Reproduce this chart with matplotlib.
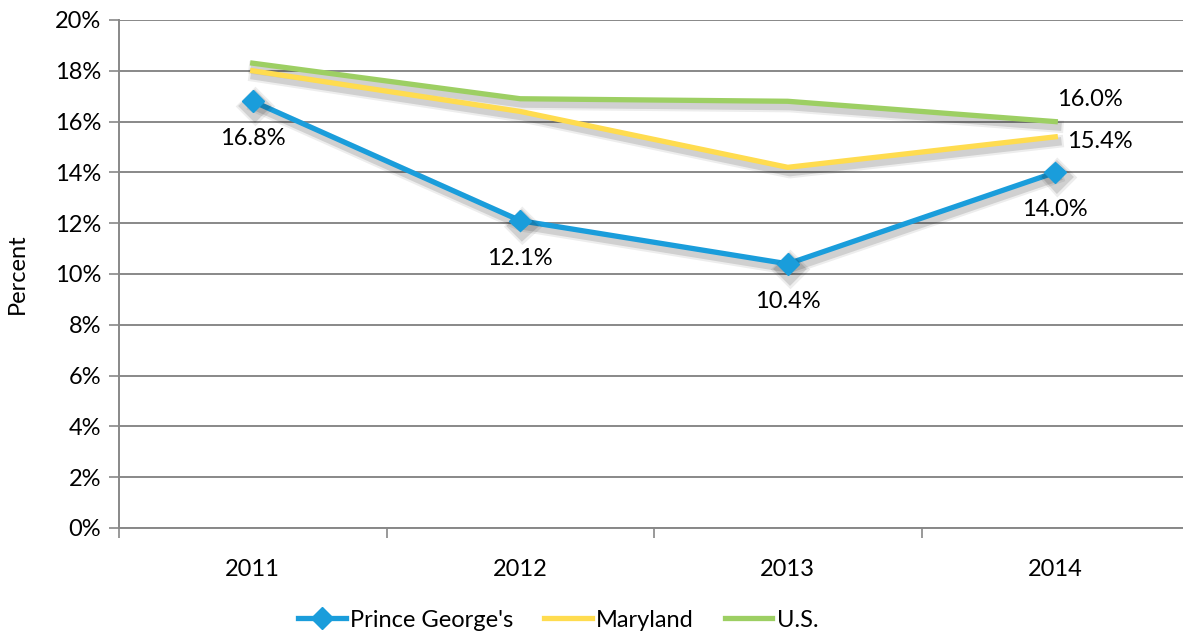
import matplotlib.pyplot as plt
import matplotlib.patheffects as pe
from matplotlib.lines import Line2D
import numpy as np

years = ["2011", "2012", "2013", "2014"]
prince_georges = [16.8, 12.1, 10.4, 14.0]
maryland = [18.0, 16.4, 14.2, 15.4]
us = [18.3, 16.9, 16.8, 16.0]

plt.rcParams['font.family'] = ['Lato', 'DejaVu Sans']
FS = 17

fig = plt.figure(figsize=(11.83, 6.34), dpi=100)
ax = fig.add_axes([119 / 1183, 1 - 528 / 634, 1070 / 1183, 508 / 634])

x = np.arange(len(years))
# soft drop shadow under each line
shadow = [pe.SimpleLineShadow(offset=(1.5, -3.5), alpha=0.07, shadow_color='black', linewidth=9),
          pe.SimpleLineShadow(offset=(1.5, -3.5), alpha=0.12, shadow_color='black', linewidth=6),
          pe.Normal()]

c_pg, c_md, c_us = '#1a9ddb', '#ffdc4f', '#9dcf63'
ax.plot(x, us, color=c_us, lw=3.8, path_effects=shadow, zorder=3)
ax.plot(x, maryland, color=c_md, lw=3.8, path_effects=shadow, zorder=3)
ax.plot(x, prince_georges, color=c_pg, lw=3.8, marker='D', ms=11,
        path_effects=shadow, zorder=4)

# data labels
for xi, v in zip(x, prince_georges):
    ax.annotate(f"{v:.1f}%", (xi, v), xytext=(0, -27), textcoords='offset points',
                ha='center', va='center', fontsize=FS)
ax.annotate(f"{us[-1]:.1f}%", (x[-1], us[-1]), xytext=(25, 16), textcoords='offset points',
            ha='center', va='center', fontsize=FS)
ax.annotate(f"{maryland[-1]:.1f}%", (x[-1], maryland[-1]), xytext=(32, -3), textcoords='offset points',
            ha='center', va='center', fontsize=FS)

ax.set_xlim(-0.5, 3.5)
ax.set_ylim(0, 20)
ax.set_yticks(np.arange(0, 21, 2))
ax.set_yticklabels([f"{t}%" for t in range(0, 21, 2)], fontsize=FS)
ax.set_xticks(x)
ax.set_xticklabels(years, fontsize=FS)
ax.set_xticks(np.arange(-0.5, 3.6, 1), minor=True)
ax.tick_params(axis='x', which='major', length=0, pad=22)
ax.tick_params(axis='x', which='minor', length=7, color='#888888', width=1.2)
ax.tick_params(axis='y', length=7, color='#888888', width=1.2, pad=6)

ax.grid(axis='y', color='#888888', lw=1.4)
ax.set_axisbelow(True)
for s in ['top', 'right']:
    ax.spines[s].set_visible(False)
for s in ['left', 'bottom']:
    ax.spines[s].set_color('#888888')
    ax.spines[s].set_linewidth(1.4)

ax.set_ylabel("Percent", fontsize=FS)
ax.yaxis.set_label_coords(-0.085, 0.5)

handles = [Line2D([], [], color=c_pg, lw=3.8, marker='D', ms=11),
           Line2D([], [], color=c_md, lw=3.8),
           Line2D([], [], color=c_us, lw=3.8)]
fig.legend(handles, ["Prince George's", "Maryland", "U.S."],
           loc='center', bbox_to_anchor=(0.472, 0.022), ncol=3, frameon=False,
           fontsize=FS, handlelength=2.0, columnspacing=1.3, handletextpad=0.2)

fig.savefig("out.png", dpi=100)
